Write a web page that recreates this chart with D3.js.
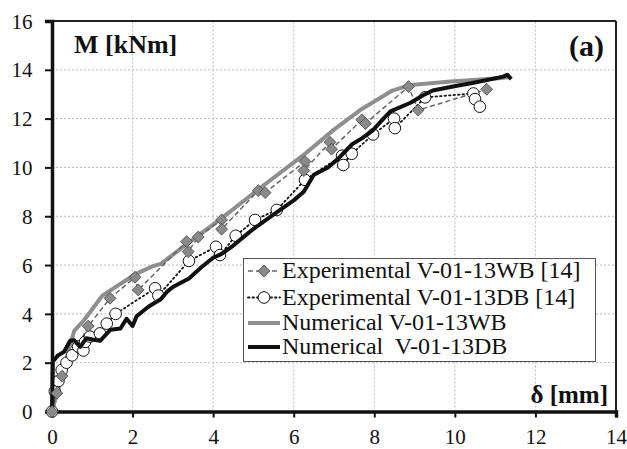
<!DOCTYPE html>
<html>
<head>
<meta charset="utf-8">
<script src="https://cdn.jsdelivr.net/npm/d3@7"></script>
<style>
  body { margin: 0; background: #fff; }
  svg text { font-family: "Liberation Serif", "Times New Roman", Times, serif; }
</style>
</head>
<body>
<div id="wrapper"></div>
<script>
// tick values
const xTicks = [0, 2, 4, 6, 8, 10, 12, 14]
const yTicks = [0, 2, 4, 6, 8, 10, 12, 14, 16]

// Experimental V-01-13WB [14] (diamonds) : [delta, M]
const expWB = [[0,0],[0.12,0.75],[0.25,1.45],[0.9,3.5],[1.44,4.64],[2.06,5.5],[2.14,4.98],[3.34,6.96],[3.38,6.55],
  [3.63,7.15],[4.21,7.85],[4.21,7.47],[5.12,9.05],[5.29,8.97],[6.28,10.24],[6.25,9.87],[6.9,11.03],[6.94,10.75],
  [7.69,11.95],[7.78,11.8],[8.85,13.31],[9.09,12.35],[10.79,13.2]]

// Experimental V-01-13DB [14] (circles)
const expDB = [[0,0],[0.07,0.82],[0.16,1.25],[0.24,1.7],[0.36,2.0],[0.5,2.3],[0.65,2.66],[0.78,2.5],[0.82,2.85],
  [0.94,3.07],[1.19,3.2],[1.36,3.6],[1.58,4.0],[2.56,5.05],[2.64,4.75],[3.4,6.17],[4.07,6.75],[4.17,6.41],
  [4.56,7.2],[5.04,7.85],[5.58,8.26],[6.28,9.49],[7.2,10.48],[7.23,10.1],[7.44,10.56],[7.97,11.35],[8.49,12.0],
  [8.51,11.61],[9.26,12.87],[10.46,13.03],[10.5,12.8],[10.62,12.49]]

// Numerical V-01-13WB
const numWB = [[0,0],[0.55,3.3],[0.8,3.75],[1.25,4.75],[2.0,5.55],[2.1,5.65],[2.5,5.95],[2.7,6.05],[3.5,7.05],
  [4.2,7.9],[5.2,9.2],[6.2,10.45],[7.0,11.55],[7.65,12.35],[8.45,13.15],[8.9,13.38],[9.9,13.52],[11.1,13.65],[11.35,13.7]]

// Numerical  V-01-13DB
const numDB = [[0,0],[0.02,2.05],[0.15,2.3],[0.3,2.45],[0.45,2.9],[0.55,2.92],[0.7,2.65],[0.85,3.0],[1.0,2.95],
  [1.2,2.9],[1.45,3.35],[1.7,3.4],[1.85,3.8],[2.0,3.5],[2.1,3.9],[2.4,4.3],[2.7,4.6],[2.85,4.9],[3.0,5.1],
  [3.4,5.45],[3.7,5.9],[4.0,6.3],[4.2,6.45],[4.5,6.8],[4.9,7.35],[5.1,7.6],[5.4,7.95],[5.7,8.3],[6.0,8.65],
  [6.25,9.0],[6.5,9.7],[6.85,10.0],[7.1,10.35],[7.45,10.95],[7.7,11.2],[7.95,11.5],[8.2,11.95],[8.4,12.3],
  [8.9,12.65],[9.2,12.95],[9.45,13.15],[10.05,13.35],[10.4,13.45],[10.8,13.58],[11.2,13.72],[11.3,13.8],[11.4,13.62]]

const legendLabels = ["Experimental V-01-13WB [14]", "Experimental V-01-13DB [14]",
  "Numerical V-01-13WB", "Numerical  V-01-13DB"]

const serif = '"Liberation Serif", "Times New Roman", Times, serif'

const width = 627, height = 449
const margin = {left: 52, right: 11, top: 21, bottom: 37.5}

const svg = d3.select("#wrapper").append("svg")
  .attr("width", width)
  .attr("height", height)
  .style("font-family", serif)

const x = d3.scaleLinear().domain([0, 14]).range([margin.left, width - margin.right])
const y = d3.scaleLinear().domain([0, 16]).range([height - margin.bottom, margin.top])

// grid
svg.append("g").selectAll("line").data(xTicks.slice(1, -1)).enter().append("line")
  .attr("x1", d => x(d)).attr("x2", d => x(d))
  .attr("y1", y(0)).attr("y2", y(16))
  .attr("stroke", "#bbb").attr("stroke-width", 1).attr("stroke-dasharray", "2,2")
svg.append("g").selectAll("line").data(yTicks.slice(1, -1)).enter().append("line")
  .attr("x1", x(0)).attr("x2", x(14))
  .attr("y1", d => y(d)).attr("y2", d => y(d))
  .attr("stroke", "#bbb").attr("stroke-width", 1).attr("stroke-dasharray", "2,2")

// frame top / right
svg.append("line").attr("x1", x(0)).attr("x2", x(14)).attr("y1", y(16)).attr("y2", y(16))
  .attr("stroke", "#222").attr("stroke-width", 2)
svg.append("line").attr("x1", x(14)).attr("x2", x(14)).attr("y1", y(16)).attr("y2", y(0))
  .attr("stroke", "#222").attr("stroke-width", 2)

// axes
const xAxis = d3.axisBottom(x).tickValues(xTicks).tickSize(6).tickPadding(12).tickFormat(d3.format("d"))
const yAxis = d3.axisLeft(y).tickValues(yTicks).tickSize(7).tickPadding(12.5).tickFormat(d3.format("d"))

const gx = svg.append("g").attr("transform", "translate(0," + y(0) + ")").call(xAxis)
const gy = svg.append("g").attr("transform", "translate(" + x(0) + ",0)").call(yAxis)
for (const g of [gx, gy]) {
  g.attr("font-family", serif).attr("font-size", 21)
  g.select(".domain").attr("stroke", "#111").attr("stroke-width", 3.5)
  g.selectAll(".tick line").attr("stroke", "#111").attr("stroke-width", 2)
  g.selectAll(".tick text").attr("fill", "#111")
}
gy.selectAll(".tick text").attr("dy", "0.34em")

const line = d3.line().x(d => x(d[0])).y(d => y(d[1]))

// series lines
svg.append("path").datum(numWB).attr("d", line)
  .attr("fill", "none").attr("stroke", "#8e8e8e").attr("stroke-width", 4).attr("stroke-linejoin", "round")
svg.append("path").datum(expWB).attr("d", line)
  .attr("fill", "none").attr("stroke", "#666").attr("stroke-width", 1.5).attr("stroke-dasharray", "5,3")
svg.append("path").datum(expDB).attr("d", line)
  .attr("fill", "none").attr("stroke", "#111").attr("stroke-width", 1.8).attr("stroke-dasharray", "1.5,3")
  .attr("stroke-linecap", "round")

const diamond = d3.symbol().type(d3.symbolDiamond2).size(90)

svg.append("g").selectAll("circle").data(expDB).enter().append("circle")
  .attr("cx", d => x(d[0])).attr("cy", d => y(d[1])).attr("r", 5.8)
  .attr("fill", "#fff").attr("stroke", "#111").attr("stroke-width", 1)

svg.append("path").datum(numDB).attr("d", line)
  .attr("fill", "none").attr("stroke", "#111").attr("stroke-width", 4).attr("stroke-linejoin", "round")

svg.append("g").selectAll("path").data(expWB).enter().append("path")
  .attr("d", diamond)
  .attr("transform", d => "translate(" + x(d[0]) + "," + y(d[1]) + ")")
  .attr("fill", "#8a8a8a").attr("stroke", "#444").attr("stroke-width", 0.8)

// axis titles
svg.append("text").attr("x", 74).attr("y", 53)
  .style("font-size", "26px").style("font-weight", "bold").attr("fill", "#111").text("M [kNm]")
svg.append("text").attr("x", 604).attr("y", 56).attr("text-anchor", "end")
  .style("font-size", "30px").style("font-weight", "bold").attr("fill", "#111").text("(a)")
svg.append("text").attr("x", 608).attr("y", 403).attr("text-anchor", "end")
  .style("font-size", "25px").style("font-weight", "bold").attr("fill", "#111").text("δ [mm]")

// legend
const lg = svg.append("g")
lg.append("rect").attr("x", 243.5).attr("y", 258.5).attr("width", 352).attr("height", 103)
  .attr("fill", "#fff").attr("stroke", "#555").attr("stroke-width", 1)
const rowY = [271, 297.5, 323, 347]
const symX1 = 248, symX2 = 280, symC = 264
lg.append("line").attr("x1", symX1).attr("x2", symX2).attr("y1", rowY[0]).attr("y2", rowY[0])
  .attr("stroke", "#666").attr("stroke-width", 1.5).attr("stroke-dasharray", "5,3")
lg.append("path").attr("d", diamond).attr("transform", "translate(" + symC + "," + rowY[0] + ")")
  .attr("fill", "#8a8a8a").attr("stroke", "#444").attr("stroke-width", 0.8)
lg.append("line").attr("x1", symX1).attr("x2", symX2).attr("y1", rowY[1]).attr("y2", rowY[1])
  .attr("stroke", "#111").attr("stroke-width", 1.8).attr("stroke-dasharray", "1.5,3").attr("stroke-linecap", "round")
lg.append("circle").attr("cx", symC).attr("cy", rowY[1]).attr("r", 5.8)
  .attr("fill", "#fff").attr("stroke", "#111").attr("stroke-width", 1)
lg.append("line").attr("x1", symX1).attr("x2", symX2).attr("y1", rowY[2]).attr("y2", rowY[2])
  .attr("stroke", "#8e8e8e").attr("stroke-width", 4)
lg.append("line").attr("x1", symX1).attr("x2", symX2).attr("y1", rowY[3]).attr("y2", rowY[3])
  .attr("stroke", "#111").attr("stroke-width", 4)
lg.selectAll("text.lbl").data(legendLabels).enter().append("text")
  .attr("class", "lbl")
  .attr("x", 282).attr("y", (d, i) => rowY[i] + 7)
  .style("font-size", "24px").style("white-space", "pre")
  .attr("fill", "#111")
  .text(d => d)
</script>
</body>
</html>
